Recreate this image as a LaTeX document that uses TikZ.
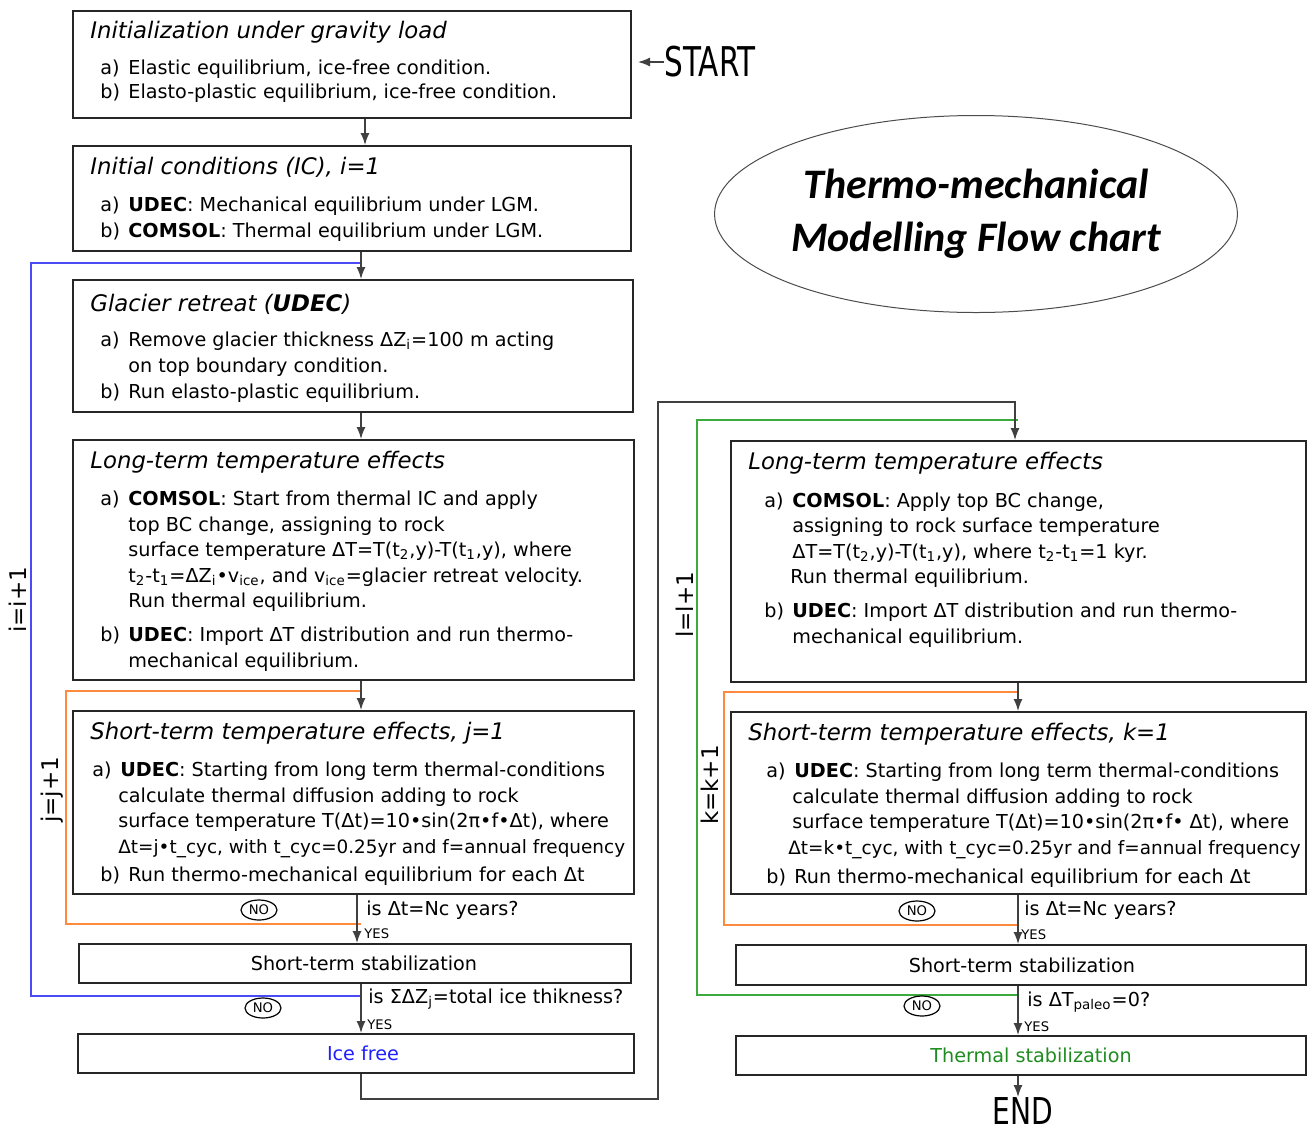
\documentclass[tikz,border=0pt]{standalone}
\usepackage{fontspec}
\setmainfont{DejaVu Sans}
\newfontfamily\calibri{Carlito}
\usetikzlibrary{arrows.meta,shapes.geometric}

\definecolor{loopblue}{HTML}{4B4BF5}
\definecolor{looporange}{HTML}{FF8A3D}
\definecolor{loopgreen}{HTML}{3DAA3D}
\definecolor{txtblue}{HTML}{1F1FFF}
\definecolor{txtgreen}{HTML}{1E8C1E}

\newcommand{\ttl}[1]{{\fontsize{11.4}{14}\selectfont\itshape #1}}
\newcommand{\itm}[2][5pt]{\hspace*{#1}\makebox[14pt][l]{#2}}
\newcommand{\cnt}[1][5pt]{\hspace*{\dimexpr#1+14pt\relax}}
\newcommand{\sub}[1]{\textsubscript{#1}}
\newcommand{\narrow}[1]{\scalebox{0.72}[1]{#1}}
\newcommand{\tight}[1]{{\fontsize{9.2}{12.75}\selectfont #1}}

\tikzset{
  frame/.style={draw=black!85,line width=1pt,inner sep=0pt,anchor=north west,font=\fontsize{9.6}{12.75}\selectfont},
  boxtext/.style={anchor=north west,inner sep=0pt,align=left,font=\fontsize{9.6}{12.75}\selectfont},
  flow/.style={draw=black!75,line width=0.7pt,-{Latex[length=6pt,width=4.5pt]}},
  loopline/.style={line width=0.7pt},
  question/.style={anchor=west,inner sep=0pt,font=\fontsize{9.6}{12}\selectfont},
  yes/.style={anchor=west,inner sep=0pt,font=\fontsize{6.6}{8}\selectfont},
  no/.style={draw,ellipse,line width=0.6pt,inner sep=0pt,minimum width=18pt,minimum height=10pt,font=\fontsize{6.6}{8}\selectfont},
  counter/.style={rotate=90,inner sep=0pt,font=\fontsize{11.5}{13}\selectfont}
}

\begin{document}
\begin{tikzpicture}[x=0.5pt,y=-0.5pt]
\useasboundingbox (0,0) rectangle (1314,1131);
\pgfmathsetmacro{\colL}{361}
\pgfmathsetmacro{\colR}{1018}
\coordinate (cL) at (\colL,0);
\coordinate (cR) at (\colR,0);

% left column
\node[frame,minimum width=279pt,minimum height=53.5pt] (init) at (72,10) {};
\node[boxtext] (initt) at ([shift={(9pt,-5.5pt)}]init.north west) {\ttl{Initialization under gravity load}\\[5pt]
\itm{a)}Elastic equilibrium, ice-free condition.\\[-0.5pt]
\itm{b)}Elasto-plastic equilibrium, ice-free condition.};

\node[frame,minimum width=279pt,minimum height=52.5pt] (ic) at (72,145) {};
\node[boxtext] (ict) at ([shift={(9pt,-6pt)}]ic.north west) {\ttl{Initial conditions (IC), i=1}\\[5.5pt]
\itm{a)}\textbf{UDEC}: Mechanical equilibrium under LGM.\\[0.5pt]
\itm{b)}\textbf{COMSOL}: Thermal equilibrium under LGM.};

\node[frame,minimum width=280pt,minimum height=66pt] (retreat) at (72,279) {};
\node[boxtext] (retreatt) at ([shift={(9pt,-7.5pt)}]retreat.north west) {\ttl{Glacier retreat (\textbf{UDEC})}\\[4.5pt]
\itm{a)}Remove glacier thickness ΔZ\sub{i}=100 m acting\\[0.5pt]
\cnt on top boundary condition.\\
\itm{b)}Run elasto-plastic equilibrium.};

\node[frame,minimum width=280.5pt,minimum height=120pt] (longL) at (72,439) {};
\node[boxtext] (longLt) at ([shift={(9pt,-6pt)}]longL.north west) {\ttl{Long-term temperature effects}\\[5.75pt]
\itm{a)}\textbf{COMSOL}: Start from thermal IC and apply\\
\cnt top BC change, assigning to rock\\
\cnt surface temperature ΔT=T(t\sub{2},y)-T(t\sub{1},y), where\\
\cnt t\sub{2}-t\sub{1}=ΔZ\sub{i}•v\sub{ice}, and v\sub{ice}=glacier retreat velocity.\\
\cnt Run thermal equilibrium.\\[4.25pt]
\itm{b)}\textbf{UDEC}: Import ΔT distribution and run thermo-\\
\cnt mechanical equilibrium.};

\node[frame,minimum width=280.5pt,minimum height=91.5pt] (shortL) at (72,710) {};
\node[boxtext] (shortLt) at ([shift={(9pt,-6pt)}]shortL.north west) {\ttl{Short-term temperature effects, j=1}\\[5.75pt]
\itm[1pt]{a)}\textbf{UDEC}: Starting from long term thermal-conditions\\
\cnt[0pt]calculate thermal diffusion adding to rock\\
\cnt[0pt]surface temperature T(Δt)=10•sin(2π•f•Δt), where\\
\cnt[0pt]\tight{Δt=j•t\_cyc, with t\_cyc=0.25yr and f=annual frequency}\\[1.25pt]
\itm{b)}Run thermo-mechanical equilibrium for each Δt};

\node[frame,minimum width=276pt,minimum height=19.5pt] (stabL) at (78,943) {\hspace*{9pt}Short-term stabilization};
\node[frame,minimum width=278pt,minimum height=19.5pt,text=txtblue] (ice) at (77,1033) {\hspace*{7pt}Ice free};

% right column
\node[frame,minimum width=287.5pt,minimum height=120.5pt] (longR) at (730,440) {};
\node[boxtext] (longRt) at ([shift={(9pt,-6pt)}]longR.north west) {\ttl{Long-term temperature effects}\\[6pt]
\itm[8pt]{a)}\textbf{COMSOL}: Apply top BC change,\\
\cnt[8pt]assigning to rock surface temperature\\
\cnt[8pt]ΔT=T(t\sub{2},y)-T(t\sub{1},y), where t\sub{2}-t\sub{1}=1 kyr.\\
\cnt[7pt]Run thermal equilibrium.\\[4.25pt]
\itm[8pt]{b)}\textbf{UDEC}: Import ΔT distribution and run thermo-\\
\cnt[8pt]mechanical equilibrium.};

\node[frame,minimum width=287.5pt,minimum height=91pt] (shortR) at (730,711) {};
\node[boxtext] (shortRt) at ([shift={(9pt,-6pt)}]shortR.north west) {\ttl{Short-term temperature effects, k=1}\\[5.75pt]
\itm[9pt]{a)}\textbf{UDEC}: Starting from long term thermal-conditions\\
\cnt[8pt]calculate thermal diffusion adding to rock\\
\cnt[8pt]surface temperature T(Δt)=10•sin(2π•f• Δt), where\\
\cnt[6pt]\tight{Δt=k•t\_cyc, with t\_cyc=0.25yr and f=annual frequency}\\[2pt]
\itm[9pt]{b)}Run thermo-mechanical equilibrium for each Δt};

\node[frame,minimum width=285pt,minimum height=20pt] (stabR) at (735,944) {\hspace*{1pt}Short-term stabilization};
\node[frame,minimum width=285pt,minimum height=19.5pt,text=txtgreen] (thermal) at (735,1035) {\hspace*{10pt}Thermal stabilization};

% title, start and end
\node[draw=black!70,line width=0.5pt,ellipse,inner sep=0pt,minimum width=261pt,minimum height=98.5pt,align=center,
  font=\calibri\bfseries\itshape\fontsize{21}{26.5}\selectfont] (title) at (976,214) {Thermo-mechanical\\Modelling Flow chart};
\node[anchor=west,inner sep=0pt,font=\fontsize{20.5}{22}\selectfont] (start) at (664,62) {\narrow{START}};
\node[anchor=north,inner sep=0pt,font=\fontsize{18.5}{20}\selectfont] (end) at (1023,1097) {\scalebox{0.76}[1]{END}};

% loops
\coordinate (iback) at (\colL,996);
\coordinate (ijoin) at (\colL,263);
\coordinate (jback) at (\colL,924);
\coordinate (jjoin) at (\colL,691);
\coordinate (lback) at (\colR,995);
\coordinate (ljoin) at (\colR,420);
\coordinate (kback) at (\colR,925);
\coordinate (kjoin) at (\colR,692);
\draw[loopline,loopblue] (iback) -- ++(-330,0) |- (ijoin);
\draw[loopline,looporange] (jback) -- ++(-295,0) |- (jjoin);
\draw[loopline,loopgreen] (lback) -- ++(-321,0) |- (ljoin);
\draw[loopline,looporange] (kback) -- ++(-294,0) |- (kjoin);

% main flow
\draw[flow] (start.west) -- ([xshift=3pt]init.east |- start.west);
\draw[flow] ([xshift=2pt]init.south -| cL) -- ([xshift=2pt]ic.north -| cL);
\draw[flow] (ic.south -| cL) -- (retreat.north -| cL);
\draw[flow] (retreat.south -| cL) -- (longL.north -| cL);
\draw[flow] (longL.south -| cL) -- (shortL.north -| cL);
\draw[flow] ([xshift=-2pt]shortL.south -| cL) -- ([xshift=-2pt]stabL.north -| cL);
\draw[flow] (stabL.south -| cL) -- (ice.north -| cL);
\draw[flow] (ice.south -| cL) -- ++(0,25) -| (658,402) -| ([xshift=-1.5pt]longR.north -| cR);
\draw[flow] (longR.south -| cR) -- (shortR.north -| cR);
\draw[flow] (shortR.south -| cR) -- (stabR.north -| cR);
\draw[flow] (stabR.south -| cR) -- (thermal.north -| cR);
\draw[flow] (thermal.south -| cR) -- (end.north -| cR);

% decisions
\node[question] (qjL) at (366,910) {is Δt=Nc years?};
\node[question] (qiL) at (368,999) {is ΣΔZ\sub{j}=total ice thikness?};
\node[question] (qkR) at (1024,910) {is Δt=Nc years?};
\node[question] (qlR) at (1027,1002) {is ΔT\sub{paleo}=0?};
\foreach \nx/\ny/\nn in {259/910/noj,263/1008/noi,917/911/nok,922/1006/nol}{\node[no] (\nn) at (\nx,\ny) {NO};}
\foreach \yx/\yy/\yn in {364/934/yesj,367/1025/yesi,1021/935/yesk,1024/1027/yesl}{\node[yes] (\yn) at (\yx,\yy) {YES};}

% counters
\foreach \cx/\cy/\ct/\cn in {18/600/i=i+1/ci,52/790/j=j+1/cj,685/605/l=l+1/cl,710/785/k=k+1/ck}{\node[counter] (\cn) at (\cx,\cy) {\ct};}
\end{tikzpicture}
\end{document}
